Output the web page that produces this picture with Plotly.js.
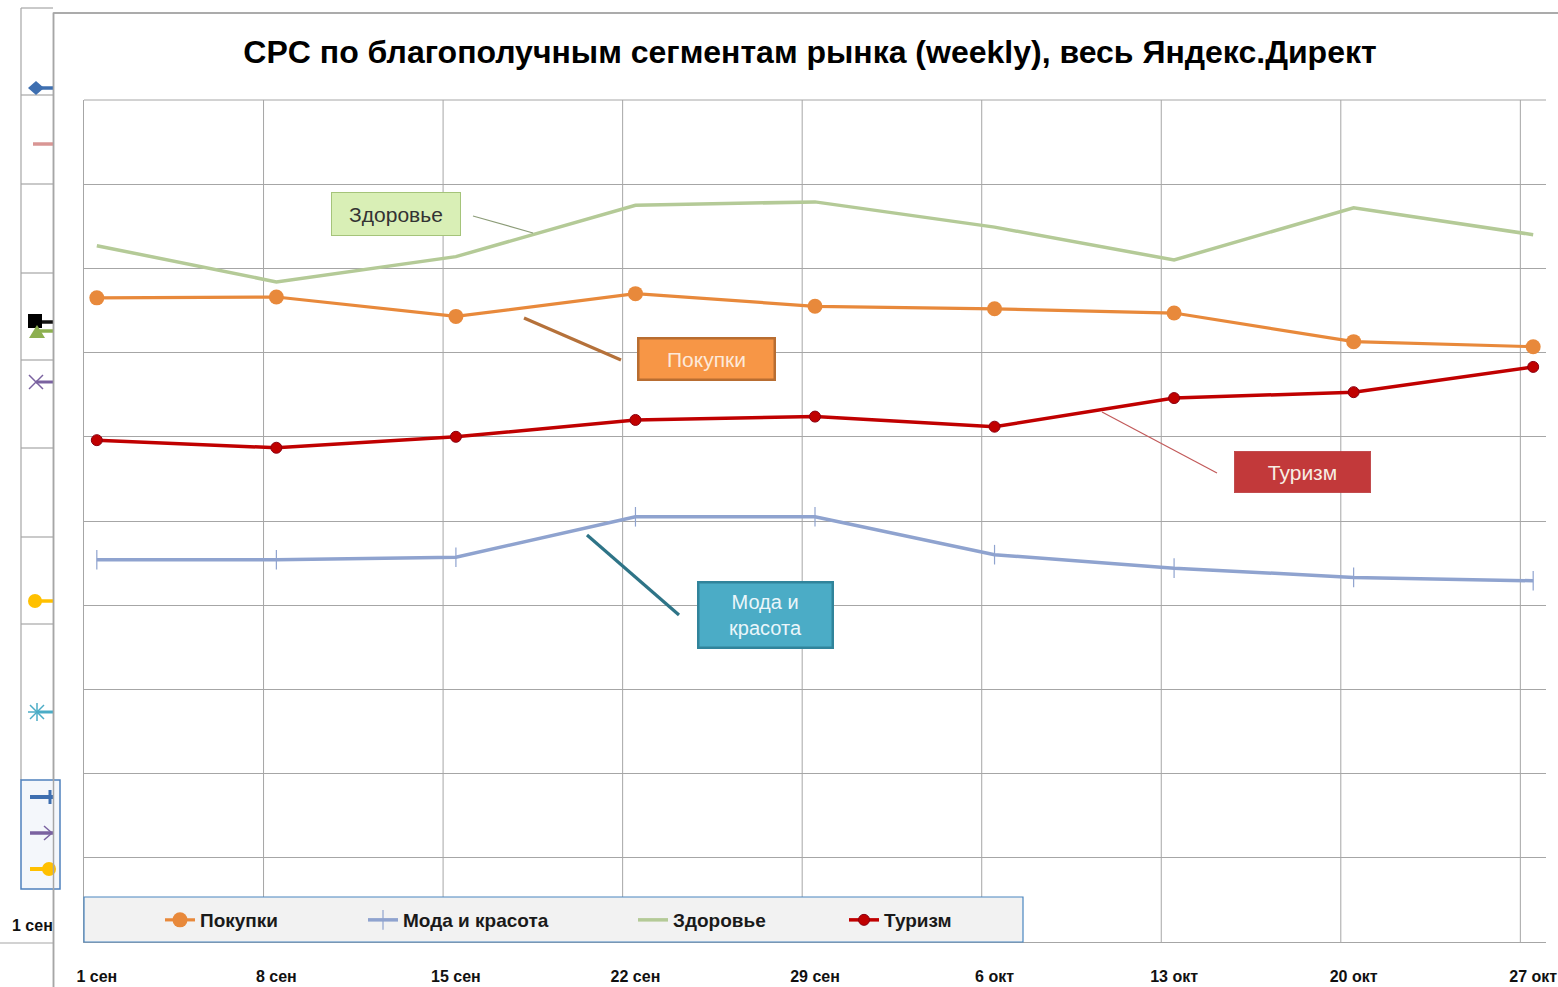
<!DOCTYPE html>
<html>
<head>
<meta charset="utf-8">
<script src="https://cdn.plot.ly/plotly-3.0.1.min.js"></script>
<style>html,body{margin:0;padding:0;background:#fff;}#chart{width:1558px;height:987px;}</style>
</head>
<body>
<div id="chart"></div>
<script>
// ---- data ----
const weekLabels = ['1 сен','8 сен','15 сен','22 сен','29 сен','6 окт','13 окт','20 окт','27 окт'];
const weekDays = [0, 7, 14, 21, 28, 35, 42, 49, 56];
const seriesNames = ['Покупки', 'Мода и красота', 'Здоровье', 'Туризм'];
const pokupki = [76.5, 76.6, 74.3, 77.0, 75.5, 75.2, 74.7, 71.3, 70.7];
const modaKrasota = [45.4, 45.4, 45.7, 50.5, 50.5, 46.0, 44.4, 43.3, 42.9];
const zdorovye = [82.7, 78.4, 81.4, 87.5, 87.9, 84.9, 81.0, 87.2, 84.0];
const turizm = [59.6, 58.7, 60.0, 62.0, 62.4, 61.2, 64.6, 65.3, 68.3];
const gridDays = [6.5, 13.5, 20.5, 27.5, 34.5, 41.5, 48.5, 55.5];

// ---- geometry helpers (decoration only) ----
const W = 1558, H = 987, ML = 84, MR = 12, MT = 100, MB = 45;
const PW = W - ML - MR, PH = H - MT - MB;
const X = p => (p - ML) / PW;
const Y = p => (H - MB - p) / PH;
const F = '"Liberation Sans", Arial, sans-serif';

const cOrange = '#E8893B', cBlue = '#8FA3CF', cGreen = '#B4CA97', cRed = '#C00000';

const traces = [
  {x: weekDays, y: pokupki, name: seriesNames[0], mode: 'lines+markers', legend: 'legend',
   line: {color: cOrange, width: 3.2}, marker: {symbol: 'circle', size: 15, color: cOrange}},
  {x: weekDays, y: modaKrasota, name: seriesNames[1], mode: 'lines+markers', legend: 'legend2',
   line: {color: cBlue, width: 3.5}, marker: {symbol: 'line-ns', size: 14, line: {color: cBlue, width: 1.2}}},
  {x: weekDays, y: zdorovye, name: seriesNames[2], mode: 'lines', legend: 'legend3',
   line: {color: cGreen, width: 3.5}},
  {x: weekDays, y: turizm, name: seriesNames[3], mode: 'lines+markers', legend: 'legend4',
   line: {color: cRed, width: 3.5}, marker: {symbol: 'circle', size: 11, color: cRed, line: {color: '#8A0010', width: 1}}}
];

const gray = '#A6A6A6';
const shapes = [];
gridDays.forEach(d => shapes.push({type: 'line', xref: 'x', yref: 'paper', x0: d, x1: d, y0: 0, y1: 1, layer: 'below', line: {color: gray, width: 1}}));
shapes.push({type: 'line', xref: 'paper', yref: 'paper', x0: 0, x1: 1, y0: 1, y1: 1, layer: 'below', line: {color: gray, width: 1}});
function L(x0, y0, x1, y1, color, width, layer) {
  shapes.push({type: 'line', xref: 'paper', yref: 'paper', x0: X(x0), y0: Y(y0), x1: X(x1), y1: Y(y1), line: {color: color, width: width}, layer: layer || 'above'});
}
function R(x0, y0, x1, y1, fill, color, width, layer) {
  shapes.push({type: 'rect', xref: 'paper', yref: 'paper', x0: X(x0), y0: Y(y1), x1: X(x1), y1: Y(y0), fillcolor: fill, line: {color: color, width: width}, layer: layer || 'above'});
}
function C(cx, cy, r, fill) {
  shapes.push({type: 'circle', xref: 'paper', yref: 'paper', x0: X(cx - r), x1: X(cx + r), y0: Y(cy + r), y1: Y(cy - r), fillcolor: fill, line: {color: fill, width: 0}});
}
function P(pts, fill, color, width) {
  const d = 'M' + pts.map(p => X(p[0]) + ',' + Y(p[1])).join('L') + 'Z';
  shapes.push({type: 'path', xref: 'paper', yref: 'paper', path: d, fillcolor: fill, line: {color: color || fill, width: width || 0}});
}

// background chart fragments on the left
L(21, 8, 21, 780, gray, 1.2);
L(21, 8, 53, 8, gray, 1.2);
[95, 184, 273, 360, 448, 537, 624].forEach(y => L(21, y, 53, y, gray, 1.2));
L(0, 943, 53, 943, gray, 1.2);
R(21, 780, 60, 889, '#F4F7FB', '#4F81BD', 1.5);
// fragment markers
L(36, 88, 53, 88, '#3E6FB0', 3.5); P([[28, 88], [36, 81], [44, 88], [36, 95]], '#3E6FB0');
L(33, 144, 53, 144, '#D99694', 3.5);
L(35, 322, 53, 322, '#111', 3.5); R(28, 314, 42, 328, '#000', '#000', 0);
L(35, 331, 53, 331, '#8DB050', 3.5); P([[29, 338], [37, 325], [45, 338]], '#8DB050');
L(36, 382, 53, 382, '#7A62A0', 3); L(29, 375, 43, 389, '#7A62A0', 1.5); L(29, 389, 43, 375, '#7A62A0', 1.5);
L(36, 601, 53, 601, '#FFC000', 3.5); C(35, 601, 7, '#FFC000');
L(37, 712, 53, 712, '#4BACC6', 3); L(37, 703, 37, 721, '#4BACC6', 1.5); L(28, 712, 46, 712, '#4BACC6', 1.5);
L(30, 705, 44, 719, '#4BACC6', 1.5); L(30, 719, 44, 705, '#4BACC6', 1.5);
L(30, 797, 53, 797, '#3E6FB0', 4); L(50, 790, 50, 804, '#3E6FB0', 3);
L(30, 833, 53, 833, '#7A62A0', 3.5); L(44, 826, 52, 833, '#7A62A0', 1.5); L(44, 840, 52, 833, '#7A62A0', 1.5);
L(30, 869, 53, 869, '#FFC000', 4); C(49, 869, 7, '#FFC000');
// main chart frame (drawn over the fragments)
R(53.5, 13, 1570, 1000, 'rgba(0,0,0,0)', gray, 1.5, 'below');
L(53.5, 13, 53.5, 987, gray, 1.5);
L(53.5, 13, 1558, 13, gray, 1.5);

// legend box
R(84, 897, 1023, 942, '#F2F2F2', '#4A86C0', 1.2);

// callout leader lines
L(473, 216, 533, 233, '#8C9C78', 1.2);
L(524, 318, 621, 360, '#B5713A', 3.2);
L(1102, 412, 1217, 473, '#C25A5A', 1.2);
L(587, 535, 679, 615, '#2E7487', 3.2);

function box(cx, cy, text, w, h, bg, bc, bw, fc) {
  return {xref: 'paper', yref: 'paper', x: X(cx), y: Y(cy), xanchor: 'center', yanchor: 'middle', text: text, showarrow: false,
          width: w, height: h, bgcolor: bg, bordercolor: bc, borderwidth: bw, borderpad: 0, font: {size: 21, color: fc, family: F}};
}
const annotations = [
  box(396, 214, 'Здоровье', 128, 42, '#D9EFB6', '#A5C47A', 1, '#333'),
  box(706, 359, 'Покупки', 134, 39, '#F79646', '#B86D31', 2.5, '#FDE9D9'),
  box(1302, 472, 'Туризм', 136, 41, '#C2393A', '#B33032', 0.5, '#F7EDE3'),
  Object.assign(box(765, 615, 'Мода и<br>красота', 132, 63, '#4BACC6', '#31849B', 2.5, '#EAF6FA'), {font: {size: 20, color: '#EAF6FA', family: F}}),
  {xref: 'paper', yref: 'paper', x: X(10), y: Y(925), xanchor: 'left', yanchor: 'middle', text: '<b>1 сен</b>', showarrow: false,
   font: {size: 16, color: '#111', family: F}}
];

function leg(px) {
  return {x: X(px), xanchor: 'left', y: Y(920), yanchor: 'middle', orientation: 'h', bgcolor: 'rgba(0,0,0,0)', borderwidth: 0,
          font: {size: 19, color: '#1a1a1a', family: F, weight: 'bold'}};
}

const layout = {
  width: W, height: H,
  margin: {l: ML, r: MR, t: MT, b: MB},
  paper_bgcolor: '#fff', plot_bgcolor: 'rgba(0,0,0,0)',
  font: {family: F, color: '#000'},
  title: {text: '<b>CPC по благополучным сегментам рынка (weekly), весь Яндекс.Директ</b>', font: {size: 32, family: F, color: '#000'},
          xref: 'container', x: 810 / W, xanchor: 'center', yref: 'container', y: 1 - 52 / H, yanchor: 'middle'},
  xaxis: {range: [-0.5, 56.5], tickmode: 'array', tickvals: weekDays, ticktext: weekLabels.map(t => '<b>' + t + '</b>'),
          showgrid: false, zeroline: false, showline: true, linecolor: gray, linewidth: 1, ticks: '', ticklabelstandoff: 20,
          tickfont: {size: 16, color: '#111', family: F}, fixedrange: true},
  yaxis: {range: [0, 100], tick0: 0, dtick: 10, showticklabels: false, showgrid: true, gridcolor: gray, gridwidth: 1,
          zeroline: false, showline: true, linecolor: gray, linewidth: 1, ticks: '', fixedrange: true},
  showlegend: true,
  legend: leg(160), legend2: leg(363), legend3: leg(633), legend4: leg(844),
  shapes: shapes,
  annotations: annotations
};

Plotly.newPlot('chart', traces, layout, {displayModeBar: false, staticPlot: true});
</script>
</body>
</html>
